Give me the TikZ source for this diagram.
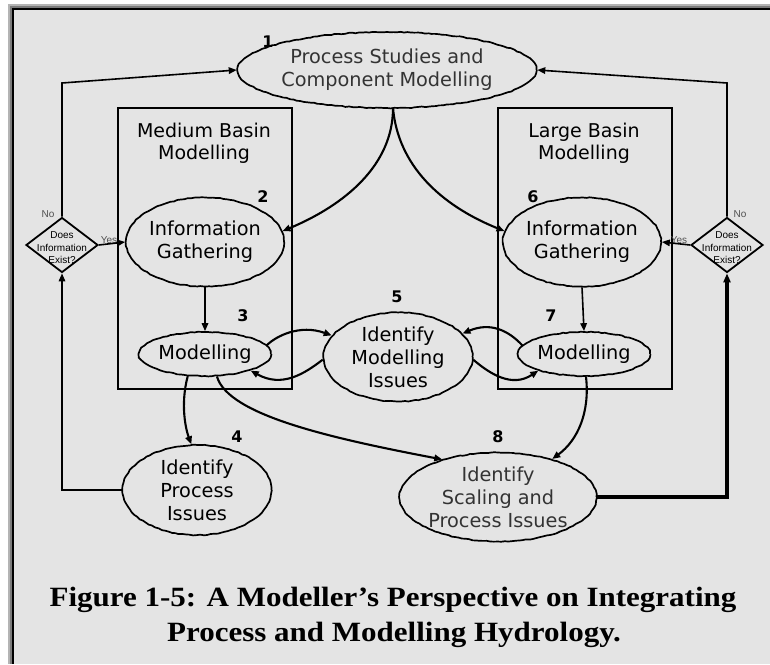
\documentclass[tikz,border=0pt]{standalone}
\usepackage{fontspec}
\setmainfont{DejaVu Sans}
\newfontfamily\smallsans{Liberation Sans}
\newfontfamily\capfont{Liberation Serif}
\usetikzlibrary{shapes.geometric,arrows.meta,decorations.pathmorphing}

\definecolor{panel}{HTML}{E4E4E4}
\definecolor{rimlight}{HTML}{B4B4B4}
\definecolor{rimdark}{HTML}{7C7C7C}
\definecolor{softink}{HTML}{333333}
\definecolor{labelgrey}{HTML}{505050}

\tikzset{
  blob/.style={ellipse, draw, line width=1.7pt, inner sep=0pt, align=center,
    font=\fontsize{19.3}{23}\selectfont,
    decorate, decoration={random steps, segment length=3.5pt, amplitude=0.45pt}},
  stagebox/.style={draw, line width=1.8pt},
  decision/.style={diamond, draw, line width=1.8pt, inner sep=0pt},
  decisiontext/.style={font=\smallsans\fontsize{10}{12.6}\selectfont, align=center},
  yesno/.style={font=\smallsans\fontsize{10}{10}\selectfont, text=labelgrey, inner sep=0pt},
  stepnum/.style={font=\bfseries\fontsize{16}{16}\selectfont, inner sep=0pt},
  boxtitle/.style={font=\fontsize{19}{22}\selectfont, align=center, inner sep=0pt},
  conn/.style={line width=1.6pt, -{Triangle[length=8pt,width=6.5pt]}},
  curvy/.style={line width=2.1pt, -{Triangle[length=8pt,width=6.5pt]}},
  caption/.style={font=\capfont\bfseries\fontsize{31}{31}\selectfont, inner sep=0pt}
}

\begin{document}
\begin{tikzpicture}[x=1pt,y=-1pt]
  % page, bevelled frame (top and left edges) and grey panel
  \useasboundingbox (0,0) rectangle (770,664);
  \fill[white] (0,0) rectangle (770,664);
  \fill[rimlight] (8,4) rectangle (770,664);
  \fill[rimdark] (10,6) rectangle (770,664);
  \fill[black] (12,8) rectangle (770,664);
  \fill[panel] (14,10) rectangle (770,664);

  % basin boxes
  \draw[stagebox] (118,108) rectangle (292,389);
  \draw[stagebox] (498,108) rectangle (672,389);
  \node[boxtitle] (medtitle) at (204,143) {Medium Basin\\Modelling};
  \node[boxtitle] (lrgtitle) at (584,143) {Large Basin\\Modelling};

  % stages
  \node[blob, minimum width=245pt, minimum height=76pt, text=softink] (e1) at (387,70)
    {Process Studies and\\Component Modelling};
  \node[blob, minimum width=147pt, minimum height=89pt] (e2) at (205,242) {Information\\Gathering};
  \node[blob, minimum width=145pt, minimum height=89pt] (e6) at (582,242) {Information\\Gathering};
  \node[blob, minimum width=115pt, minimum height=44pt] (e3) at (205,354) {Modelling};
  \node[blob, minimum width=115pt, minimum height=44pt] (e7) at (584,354) {Modelling};
  \node[blob, minimum width=149pt, minimum height=89pt] (e5) at (398,357) {Identify\\Modelling\\Issues};
  \node[blob, minimum width=149pt, minimum height=90pt] (e4) at (197,490) {Identify\\Process\\Issues};
  \node[blob, minimum width=192pt, minimum height=89pt, text=softink] (e8) at (498,497)
    {Identify\\Scaling and\\Process Issues};

  % step numbers
  \node[stepnum] (n1) at (268,42) {1};
  \node[stepnum] (n2) at (263,197) {2};
  \node[stepnum] (n3) at (243,316) {3};
  \node[stepnum] (n4) at (237,437) {4};
  \node[stepnum] (n5) at (397,297) {5};
  \node[stepnum] (n6) at (533,197) {6};
  \node[stepnum] (n7) at (551,316) {7};
  \node[stepnum] (n8) at (498,437) {8};

  % decisions
  \node[decision, minimum width=72pt, minimum height=55pt] (d1) at (62,245) {};
  \node[decisiontext] (d1t) at (62,248) {Does\\Information\\Exist?};
  \node[decision, minimum width=72pt, minimum height=55pt] (d2) at (727,245) {};
  \node[decisiontext] (d2t) at (727,248) {Does\\Information\\Exist?};
  \node[yesno] (no1) at (48,214) {No};
  \node[yesno] (yes1) at (109,240) {Yes};
  \node[yesno] (no2) at (740,214) {No};
  \node[yesno] (yes2) at (679,240) {Yes};

  % decision outcomes
  \coordinate (c1) at (62,83);
  \coordinate (c2) at (727,83);
  \draw[conn] (d1.north) -- (c1) -- (e1.west);
  \draw[conn] (d2.north) -- (c2) -- (e1.east);
  \draw[conn] (d1.east) -- (e2.west);
  \draw[conn] (d2.west) -- (e6.east);

  % feedback into the decisions
  \draw[conn] (e4.west) -| (d1.south);
  \draw[line width=3.2pt, -{Triangle[length=9pt,width=7pt]}] (e8.east) -| (d2.south);

  % gathering to modelling
  \draw[conn] (e2.south) -- (e3.north);
  \draw[conn] (e6.south) -- (e7.north);

  % process studies feeding both basins
  \coordinate (split) at (393,108);
  \draw[curvy] (split) .. controls (393,165) and (345,205) .. (e2.8);
  \draw[curvy] (split) .. controls (398,165) and (440,205) .. (e6.172);

  % exchanges with the modelling issues stage
  \draw[curvy] (e3.8) .. controls (276,336) and (300,324) .. (e5.162);
  \draw[curvy] (e5.182) .. controls (304,374) and (282,388) .. (e3.-20);
  \draw[curvy] (e7.172) .. controls (508,330) and (490,322) .. (e5.20);
  \draw[curvy] (e5.-2) .. controls (490,374) and (512,388) .. (e7.200);

  % modelling to issue identification
  \draw[curvy] (e3.-128) .. controls (180,405) and (186,430) .. (e4.97);
  \draw[curvy] (e3.-62) .. controls (228,415) and (330,438) .. (e8.146);
  \draw[curvy] (e7.-85) .. controls (590,412) and (578,440) .. (e8.35);

  % caption
  \node[caption, anchor=base] (cap1) at (393,606)
    {\scalebox{1}[0.9]{Figure 1-5: A Modeller’s Perspective on Integrating}};
  \node[caption, anchor=base] (cap2) at (394,641)
    {\scalebox{1}[0.9]{Process and Modelling Hydrology.}};
\end{tikzpicture}
\end{document}
